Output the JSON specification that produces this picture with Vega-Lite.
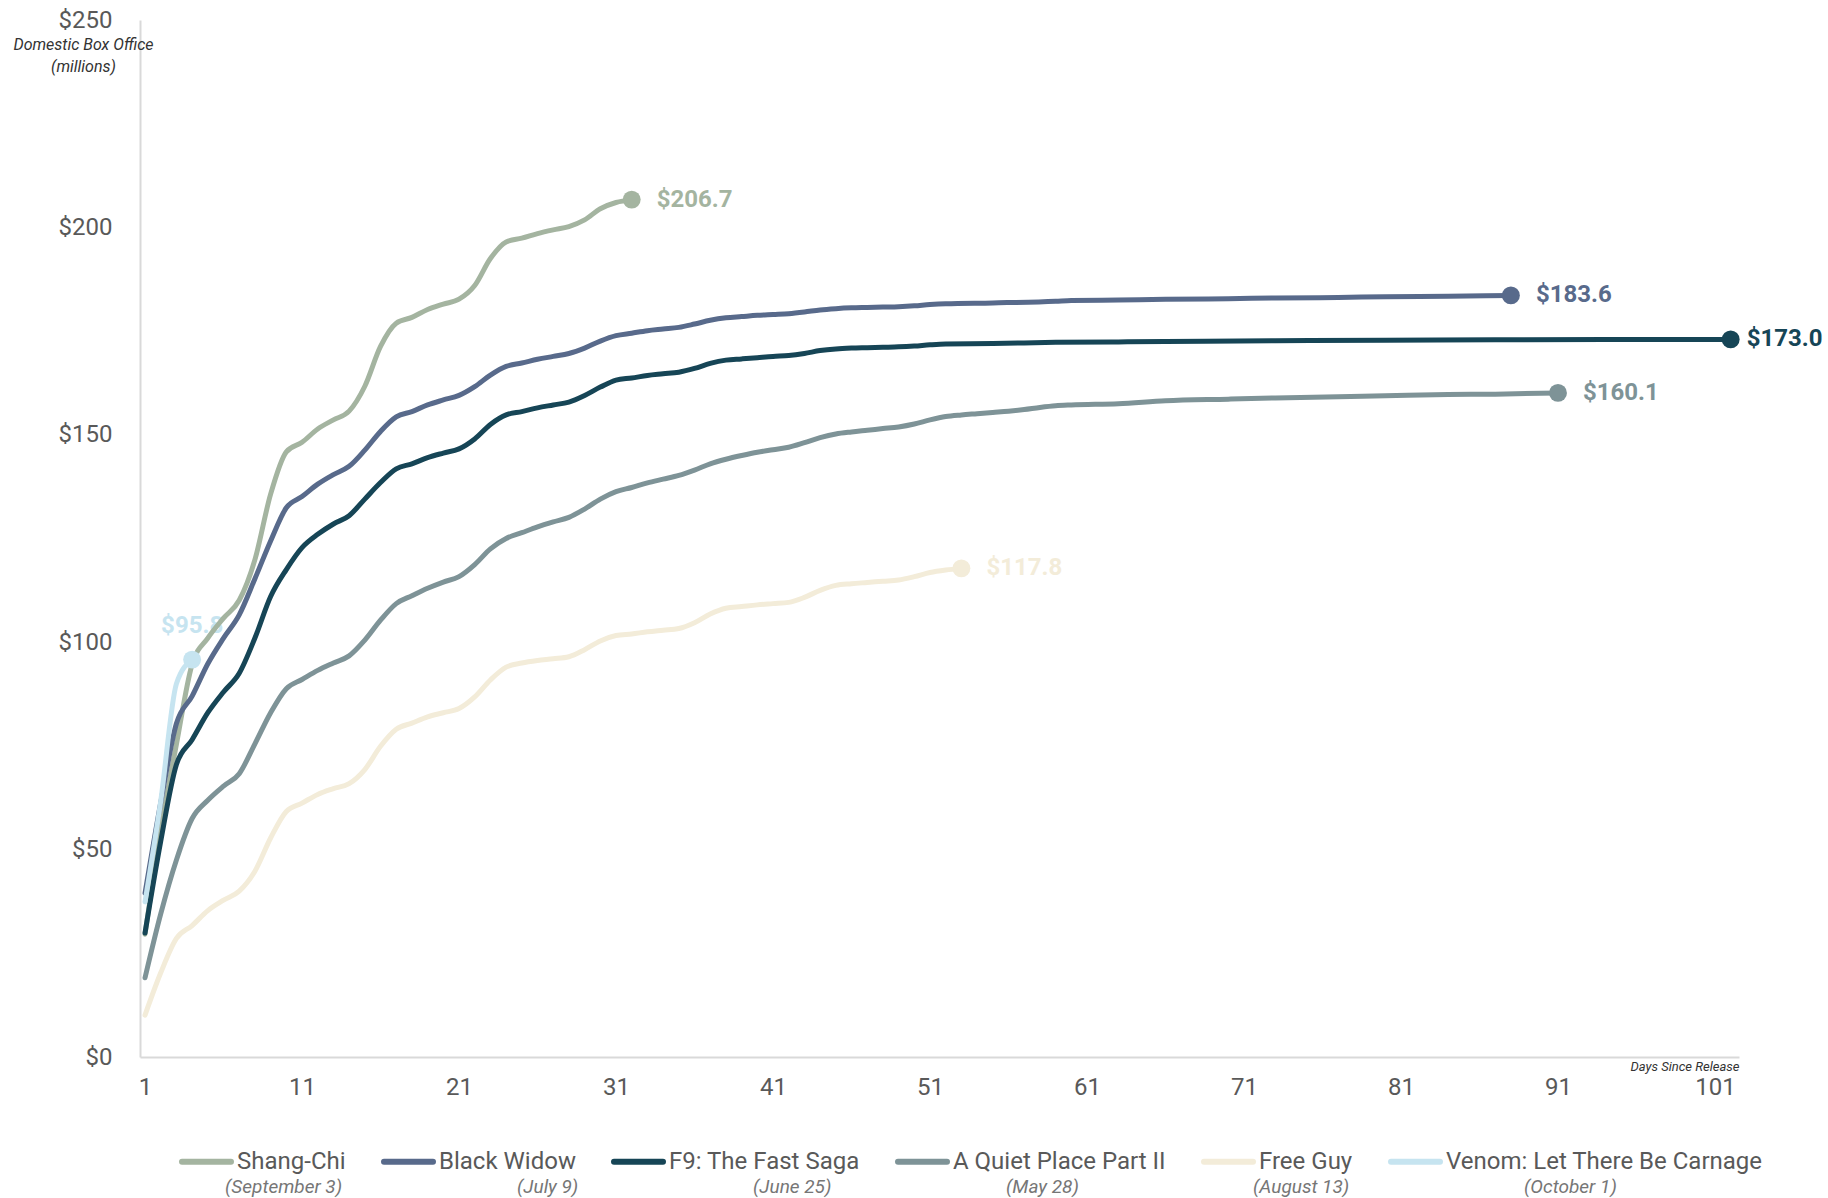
{
  "$schema": "https://vega.github.io/schema/vega-lite/v6.json",
  "width": 1599,
  "height": 1037,
  "autosize": {"type": "none"},
  "padding": {"left": 140, "top": 20, "right": 89, "bottom": 141},
  "background": "white",
  "config": {"view": {"stroke": null}, "font": "Roboto"},
  "datasets": {
    "releases": [
      {"movie": "Shang-Chi", "released": "September 3"},
      {"movie": "Black Widow", "released": "July 9"},
      {"movie": "F9: The Fast Saga", "released": "June 25"},
      {"movie": "A Quiet Place Part II", "released": "May 28"},
      {"movie": "Free Guy", "released": "August 13"},
      {"movie": "Venom: Let There Be Carnage", "released": "October 1"}
    ],
    "box": [
      {"movie": "Shang-Chi", "day": 1, "gross": 29.6},
      {"movie": "Shang-Chi", "day": 2, "gross": 54.5},
      {"movie": "Shang-Chi", "day": 3, "gross": 75.4},
      {"movie": "Shang-Chi", "day": 4, "gross": 94.7},
      {"movie": "Shang-Chi", "day": 5, "gross": 101.0},
      {"movie": "Shang-Chi", "day": 6, "gross": 105.8},
      {"movie": "Shang-Chi", "day": 7, "gross": 110.1},
      {"movie": "Shang-Chi", "day": 8, "gross": 119.9},
      {"movie": "Shang-Chi", "day": 9, "gross": 135.7},
      {"movie": "Shang-Chi", "day": 10, "gross": 145.9},
      {"movie": "Shang-Chi", "day": 11, "gross": 148.2},
      {"movie": "Shang-Chi", "day": 12, "gross": 151.4},
      {"movie": "Shang-Chi", "day": 13, "gross": 153.6},
      {"movie": "Shang-Chi", "day": 14, "gross": 155.7},
      {"movie": "Shang-Chi", "day": 15, "gross": 161.7},
      {"movie": "Shang-Chi", "day": 16, "gross": 171.3},
      {"movie": "Shang-Chi", "day": 17, "gross": 176.9},
      {"movie": "Shang-Chi", "day": 18, "gross": 178.3},
      {"movie": "Shang-Chi", "day": 19, "gross": 180.2},
      {"movie": "Shang-Chi", "day": 20, "gross": 181.5},
      {"movie": "Shang-Chi", "day": 21, "gross": 182.7},
      {"movie": "Shang-Chi", "day": 22, "gross": 186.0},
      {"movie": "Shang-Chi", "day": 23, "gross": 192.5},
      {"movie": "Shang-Chi", "day": 24, "gross": 196.5},
      {"movie": "Shang-Chi", "day": 25, "gross": 197.4},
      {"movie": "Shang-Chi", "day": 26, "gross": 198.5},
      {"movie": "Shang-Chi", "day": 27, "gross": 199.4},
      {"movie": "Shang-Chi", "day": 28, "gross": 200.2},
      {"movie": "Shang-Chi", "day": 29, "gross": 201.8},
      {"movie": "Shang-Chi", "day": 30, "gross": 204.5},
      {"movie": "Shang-Chi", "day": 31, "gross": 206.0},
      {"movie": "Shang-Chi", "day": 32, "gross": 206.7},
      {"movie": "Black Widow", "day": 1, "gross": 39.5},
      {"movie": "Black Widow", "day": 2, "gross": 61.3},
      {"movie": "Black Widow", "day": 3, "gross": 80.4},
      {"movie": "Black Widow", "day": 4, "gross": 87.0},
      {"movie": "Black Widow", "day": 5, "gross": 94.8},
      {"movie": "Black Widow", "day": 6, "gross": 101.0},
      {"movie": "Black Widow", "day": 7, "gross": 106.6},
      {"movie": "Black Widow", "day": 8, "gross": 115.3},
      {"movie": "Black Widow", "day": 9, "gross": 124.4},
      {"movie": "Black Widow", "day": 10, "gross": 132.4},
      {"movie": "Black Widow", "day": 11, "gross": 135.1},
      {"movie": "Black Widow", "day": 12, "gross": 138.1},
      {"movie": "Black Widow", "day": 13, "gross": 140.4},
      {"movie": "Black Widow", "day": 14, "gross": 142.4},
      {"movie": "Black Widow", "day": 15, "gross": 146.3},
      {"movie": "Black Widow", "day": 16, "gross": 150.8},
      {"movie": "Black Widow", "day": 17, "gross": 154.3},
      {"movie": "Black Widow", "day": 18, "gross": 155.6},
      {"movie": "Black Widow", "day": 19, "gross": 157.2},
      {"movie": "Black Widow", "day": 20, "gross": 158.4},
      {"movie": "Black Widow", "day": 21, "gross": 159.5},
      {"movie": "Black Widow", "day": 22, "gross": 161.6},
      {"movie": "Black Widow", "day": 23, "gross": 164.4},
      {"movie": "Black Widow", "day": 24, "gross": 166.5},
      {"movie": "Black Widow", "day": 25, "gross": 167.3},
      {"movie": "Black Widow", "day": 26, "gross": 168.2},
      {"movie": "Black Widow", "day": 27, "gross": 168.9},
      {"movie": "Black Widow", "day": 28, "gross": 169.6},
      {"movie": "Black Widow", "day": 29, "gross": 170.9},
      {"movie": "Black Widow", "day": 30, "gross": 172.6},
      {"movie": "Black Widow", "day": 31, "gross": 173.9},
      {"movie": "Black Widow", "day": 32, "gross": 174.5},
      {"movie": "Black Widow", "day": 33, "gross": 175.1},
      {"movie": "Black Widow", "day": 34, "gross": 175.5},
      {"movie": "Black Widow", "day": 35, "gross": 175.9},
      {"movie": "Black Widow", "day": 36, "gross": 176.7},
      {"movie": "Black Widow", "day": 37, "gross": 177.6},
      {"movie": "Black Widow", "day": 38, "gross": 178.2},
      {"movie": "Black Widow", "day": 39, "gross": 178.5},
      {"movie": "Black Widow", "day": 40, "gross": 178.8},
      {"movie": "Black Widow", "day": 41, "gross": 179.0},
      {"movie": "Black Widow", "day": 42, "gross": 179.2},
      {"movie": "Black Widow", "day": 43, "gross": 179.6},
      {"movie": "Black Widow", "day": 44, "gross": 180.1},
      {"movie": "Black Widow", "day": 45, "gross": 180.4},
      {"movie": "Black Widow", "day": 46, "gross": 180.6},
      {"movie": "Black Widow", "day": 47, "gross": 180.7},
      {"movie": "Black Widow", "day": 48, "gross": 180.8},
      {"movie": "Black Widow", "day": 49, "gross": 180.9},
      {"movie": "Black Widow", "day": 50, "gross": 181.1},
      {"movie": "Black Widow", "day": 51, "gross": 181.4},
      {"movie": "Black Widow", "day": 52, "gross": 181.6},
      {"movie": "Black Widow", "day": 55, "gross": 181.8},
      {"movie": "Black Widow", "day": 59, "gross": 182.2},
      {"movie": "Black Widow", "day": 60, "gross": 182.4},
      {"movie": "Black Widow", "day": 63, "gross": 182.5},
      {"movie": "Black Widow", "day": 66, "gross": 182.7},
      {"movie": "Black Widow", "day": 70, "gross": 182.8},
      {"movie": "Black Widow", "day": 73, "gross": 183.0},
      {"movie": "Black Widow", "day": 77, "gross": 183.1},
      {"movie": "Black Widow", "day": 80, "gross": 183.3},
      {"movie": "Black Widow", "day": 84, "gross": 183.4},
      {"movie": "Black Widow", "day": 88, "gross": 183.6},
      {"movie": "F9: The Fast Saga", "day": 1, "gross": 29.9},
      {"movie": "F9: The Fast Saga", "day": 2, "gross": 52.0},
      {"movie": "F9: The Fast Saga", "day": 3, "gross": 70.5},
      {"movie": "F9: The Fast Saga", "day": 4, "gross": 76.5},
      {"movie": "F9: The Fast Saga", "day": 5, "gross": 83.0},
      {"movie": "F9: The Fast Saga", "day": 6, "gross": 88.0},
      {"movie": "F9: The Fast Saga", "day": 7, "gross": 92.5},
      {"movie": "F9: The Fast Saga", "day": 8, "gross": 101.0},
      {"movie": "F9: The Fast Saga", "day": 9, "gross": 111.0},
      {"movie": "F9: The Fast Saga", "day": 10, "gross": 117.5},
      {"movie": "F9: The Fast Saga", "day": 11, "gross": 122.8},
      {"movie": "F9: The Fast Saga", "day": 12, "gross": 126.0},
      {"movie": "F9: The Fast Saga", "day": 13, "gross": 128.5},
      {"movie": "F9: The Fast Saga", "day": 14, "gross": 130.5},
      {"movie": "F9: The Fast Saga", "day": 15, "gross": 134.5},
      {"movie": "F9: The Fast Saga", "day": 16, "gross": 138.5},
      {"movie": "F9: The Fast Saga", "day": 17, "gross": 141.8},
      {"movie": "F9: The Fast Saga", "day": 18, "gross": 143.0},
      {"movie": "F9: The Fast Saga", "day": 19, "gross": 144.5},
      {"movie": "F9: The Fast Saga", "day": 20, "gross": 145.6},
      {"movie": "F9: The Fast Saga", "day": 21, "gross": 146.6},
      {"movie": "F9: The Fast Saga", "day": 22, "gross": 149.0},
      {"movie": "F9: The Fast Saga", "day": 23, "gross": 152.5},
      {"movie": "F9: The Fast Saga", "day": 24, "gross": 154.8},
      {"movie": "F9: The Fast Saga", "day": 25, "gross": 155.6},
      {"movie": "F9: The Fast Saga", "day": 26, "gross": 156.5},
      {"movie": "F9: The Fast Saga", "day": 27, "gross": 157.2},
      {"movie": "F9: The Fast Saga", "day": 28, "gross": 157.9},
      {"movie": "F9: The Fast Saga", "day": 29, "gross": 159.5},
      {"movie": "F9: The Fast Saga", "day": 30, "gross": 161.5},
      {"movie": "F9: The Fast Saga", "day": 31, "gross": 163.2},
      {"movie": "F9: The Fast Saga", "day": 32, "gross": 163.7},
      {"movie": "F9: The Fast Saga", "day": 33, "gross": 164.3},
      {"movie": "F9: The Fast Saga", "day": 34, "gross": 164.7},
      {"movie": "F9: The Fast Saga", "day": 35, "gross": 165.1},
      {"movie": "F9: The Fast Saga", "day": 36, "gross": 166.0},
      {"movie": "F9: The Fast Saga", "day": 37, "gross": 167.2},
      {"movie": "F9: The Fast Saga", "day": 38, "gross": 168.0},
      {"movie": "F9: The Fast Saga", "day": 39, "gross": 168.3},
      {"movie": "F9: The Fast Saga", "day": 40, "gross": 168.6},
      {"movie": "F9: The Fast Saga", "day": 41, "gross": 168.9},
      {"movie": "F9: The Fast Saga", "day": 42, "gross": 169.1},
      {"movie": "F9: The Fast Saga", "day": 43, "gross": 169.6},
      {"movie": "F9: The Fast Saga", "day": 44, "gross": 170.3},
      {"movie": "F9: The Fast Saga", "day": 45, "gross": 170.7},
      {"movie": "F9: The Fast Saga", "day": 46, "gross": 170.9},
      {"movie": "F9: The Fast Saga", "day": 47, "gross": 171.0},
      {"movie": "F9: The Fast Saga", "day": 48, "gross": 171.1},
      {"movie": "F9: The Fast Saga", "day": 49, "gross": 171.2},
      {"movie": "F9: The Fast Saga", "day": 50, "gross": 171.4},
      {"movie": "F9: The Fast Saga", "day": 51, "gross": 171.7},
      {"movie": "F9: The Fast Saga", "day": 52, "gross": 171.9},
      {"movie": "F9: The Fast Saga", "day": 55, "gross": 172.0},
      {"movie": "F9: The Fast Saga", "day": 59, "gross": 172.3},
      {"movie": "F9: The Fast Saga", "day": 63, "gross": 172.4},
      {"movie": "F9: The Fast Saga", "day": 66, "gross": 172.5},
      {"movie": "F9: The Fast Saga", "day": 73, "gross": 172.7},
      {"movie": "F9: The Fast Saga", "day": 80, "gross": 172.8},
      {"movie": "F9: The Fast Saga", "day": 87, "gross": 172.9},
      {"movie": "F9: The Fast Saga", "day": 94, "gross": 172.95},
      {"movie": "F9: The Fast Saga", "day": 102, "gross": 173.0},
      {"movie": "A Quiet Place Part II", "day": 1, "gross": 19.1},
      {"movie": "A Quiet Place Part II", "day": 2, "gross": 34.5},
      {"movie": "A Quiet Place Part II", "day": 3, "gross": 47.5},
      {"movie": "A Quiet Place Part II", "day": 4, "gross": 57.5},
      {"movie": "A Quiet Place Part II", "day": 5, "gross": 61.9},
      {"movie": "A Quiet Place Part II", "day": 6, "gross": 65.3},
      {"movie": "A Quiet Place Part II", "day": 7, "gross": 68.3},
      {"movie": "A Quiet Place Part II", "day": 8, "gross": 75.5},
      {"movie": "A Quiet Place Part II", "day": 9, "gross": 83.0},
      {"movie": "A Quiet Place Part II", "day": 10, "gross": 88.8},
      {"movie": "A Quiet Place Part II", "day": 11, "gross": 91.0},
      {"movie": "A Quiet Place Part II", "day": 12, "gross": 93.2},
      {"movie": "A Quiet Place Part II", "day": 13, "gross": 95.0},
      {"movie": "A Quiet Place Part II", "day": 14, "gross": 96.7},
      {"movie": "A Quiet Place Part II", "day": 15, "gross": 100.5},
      {"movie": "A Quiet Place Part II", "day": 16, "gross": 105.3},
      {"movie": "A Quiet Place Part II", "day": 17, "gross": 109.3},
      {"movie": "A Quiet Place Part II", "day": 18, "gross": 111.2},
      {"movie": "A Quiet Place Part II", "day": 19, "gross": 113.0},
      {"movie": "A Quiet Place Part II", "day": 20, "gross": 114.5},
      {"movie": "A Quiet Place Part II", "day": 21, "gross": 115.8},
      {"movie": "A Quiet Place Part II", "day": 22, "gross": 118.7},
      {"movie": "A Quiet Place Part II", "day": 23, "gross": 122.5},
      {"movie": "A Quiet Place Part II", "day": 24, "gross": 125.0},
      {"movie": "A Quiet Place Part II", "day": 25, "gross": 126.4},
      {"movie": "A Quiet Place Part II", "day": 26, "gross": 127.8},
      {"movie": "A Quiet Place Part II", "day": 27, "gross": 129.0},
      {"movie": "A Quiet Place Part II", "day": 28, "gross": 130.1},
      {"movie": "A Quiet Place Part II", "day": 29, "gross": 132.1},
      {"movie": "A Quiet Place Part II", "day": 30, "gross": 134.5},
      {"movie": "A Quiet Place Part II", "day": 31, "gross": 136.3},
      {"movie": "A Quiet Place Part II", "day": 32, "gross": 137.3},
      {"movie": "A Quiet Place Part II", "day": 33, "gross": 138.4},
      {"movie": "A Quiet Place Part II", "day": 34, "gross": 139.3},
      {"movie": "A Quiet Place Part II", "day": 35, "gross": 140.2},
      {"movie": "A Quiet Place Part II", "day": 36, "gross": 141.5},
      {"movie": "A Quiet Place Part II", "day": 37, "gross": 143.0},
      {"movie": "A Quiet Place Part II", "day": 38, "gross": 144.1},
      {"movie": "A Quiet Place Part II", "day": 39, "gross": 145.0},
      {"movie": "A Quiet Place Part II", "day": 40, "gross": 145.8},
      {"movie": "A Quiet Place Part II", "day": 41, "gross": 146.4},
      {"movie": "A Quiet Place Part II", "day": 42, "gross": 147.0},
      {"movie": "A Quiet Place Part II", "day": 43, "gross": 148.1},
      {"movie": "A Quiet Place Part II", "day": 44, "gross": 149.3},
      {"movie": "A Quiet Place Part II", "day": 45, "gross": 150.2},
      {"movie": "A Quiet Place Part II", "day": 46, "gross": 150.7},
      {"movie": "A Quiet Place Part II", "day": 47, "gross": 151.1},
      {"movie": "A Quiet Place Part II", "day": 48, "gross": 151.5},
      {"movie": "A Quiet Place Part II", "day": 49, "gross": 151.9},
      {"movie": "A Quiet Place Part II", "day": 50, "gross": 152.6},
      {"movie": "A Quiet Place Part II", "day": 51, "gross": 153.6},
      {"movie": "A Quiet Place Part II", "day": 52, "gross": 154.4},
      {"movie": "A Quiet Place Part II", "day": 53, "gross": 154.8},
      {"movie": "A Quiet Place Part II", "day": 54, "gross": 155.1},
      {"movie": "A Quiet Place Part II", "day": 55, "gross": 155.4},
      {"movie": "A Quiet Place Part II", "day": 56, "gross": 155.7},
      {"movie": "A Quiet Place Part II", "day": 57, "gross": 156.1},
      {"movie": "A Quiet Place Part II", "day": 58, "gross": 156.6},
      {"movie": "A Quiet Place Part II", "day": 59, "gross": 157.0},
      {"movie": "A Quiet Place Part II", "day": 60, "gross": 157.2},
      {"movie": "A Quiet Place Part II", "day": 63, "gross": 157.5},
      {"movie": "A Quiet Place Part II", "day": 66, "gross": 158.2},
      {"movie": "A Quiet Place Part II", "day": 70, "gross": 158.6},
      {"movie": "A Quiet Place Part II", "day": 73, "gross": 158.9},
      {"movie": "A Quiet Place Part II", "day": 77, "gross": 159.2},
      {"movie": "A Quiet Place Part II", "day": 80, "gross": 159.4},
      {"movie": "A Quiet Place Part II", "day": 84, "gross": 159.7},
      {"movie": "A Quiet Place Part II", "day": 87, "gross": 159.8},
      {"movie": "A Quiet Place Part II", "day": 91, "gross": 160.1},
      {"movie": "Free Guy", "day": 1, "gross": 10.1},
      {"movie": "Free Guy", "day": 2, "gross": 20.3},
      {"movie": "Free Guy", "day": 3, "gross": 28.6},
      {"movie": "Free Guy", "day": 4, "gross": 31.7},
      {"movie": "Free Guy", "day": 5, "gross": 35.3},
      {"movie": "Free Guy", "day": 6, "gross": 37.8},
      {"movie": "Free Guy", "day": 7, "gross": 40.0},
      {"movie": "Free Guy", "day": 8, "gross": 44.8},
      {"movie": "Free Guy", "day": 9, "gross": 52.8},
      {"movie": "Free Guy", "day": 10, "gross": 59.2},
      {"movie": "Free Guy", "day": 11, "gross": 61.2},
      {"movie": "Free Guy", "day": 12, "gross": 63.3},
      {"movie": "Free Guy", "day": 13, "gross": 64.7},
      {"movie": "Free Guy", "day": 14, "gross": 65.9},
      {"movie": "Free Guy", "day": 15, "gross": 69.3},
      {"movie": "Free Guy", "day": 16, "gross": 74.9},
      {"movie": "Free Guy", "day": 17, "gross": 79.0},
      {"movie": "Free Guy", "day": 18, "gross": 80.5},
      {"movie": "Free Guy", "day": 19, "gross": 82.0},
      {"movie": "Free Guy", "day": 20, "gross": 83.0},
      {"movie": "Free Guy", "day": 21, "gross": 84.0},
      {"movie": "Free Guy", "day": 22, "gross": 86.8},
      {"movie": "Free Guy", "day": 23, "gross": 90.9},
      {"movie": "Free Guy", "day": 24, "gross": 94.0},
      {"movie": "Free Guy", "day": 25, "gross": 95.0},
      {"movie": "Free Guy", "day": 26, "gross": 95.6},
      {"movie": "Free Guy", "day": 27, "gross": 96.0},
      {"movie": "Free Guy", "day": 28, "gross": 96.5},
      {"movie": "Free Guy", "day": 29, "gross": 98.2},
      {"movie": "Free Guy", "day": 30, "gross": 100.3},
      {"movie": "Free Guy", "day": 31, "gross": 101.6},
      {"movie": "Free Guy", "day": 32, "gross": 102.0},
      {"movie": "Free Guy", "day": 33, "gross": 102.5},
      {"movie": "Free Guy", "day": 34, "gross": 102.9},
      {"movie": "Free Guy", "day": 35, "gross": 103.3},
      {"movie": "Free Guy", "day": 36, "gross": 104.7},
      {"movie": "Free Guy", "day": 37, "gross": 106.8},
      {"movie": "Free Guy", "day": 38, "gross": 108.2},
      {"movie": "Free Guy", "day": 39, "gross": 108.6},
      {"movie": "Free Guy", "day": 40, "gross": 109.0},
      {"movie": "Free Guy", "day": 41, "gross": 109.3},
      {"movie": "Free Guy", "day": 42, "gross": 109.6},
      {"movie": "Free Guy", "day": 43, "gross": 110.8},
      {"movie": "Free Guy", "day": 44, "gross": 112.5},
      {"movie": "Free Guy", "day": 45, "gross": 113.7},
      {"movie": "Free Guy", "day": 46, "gross": 114.1},
      {"movie": "Free Guy", "day": 47, "gross": 114.4},
      {"movie": "Free Guy", "day": 48, "gross": 114.7},
      {"movie": "Free Guy", "day": 49, "gross": 115.0},
      {"movie": "Free Guy", "day": 50, "gross": 115.8},
      {"movie": "Free Guy", "day": 51, "gross": 116.8},
      {"movie": "Free Guy", "day": 52, "gross": 117.4},
      {"movie": "Free Guy", "day": 53, "gross": 117.8},
      {"movie": "Venom: Let There Be Carnage", "day": 1, "gross": 37.4},
      {"movie": "Venom: Let There Be Carnage", "day": 2, "gross": 61.7},
      {"movie": "Venom: Let There Be Carnage", "day": 3, "gross": 90.0},
      {"movie": "Venom: Let There Be Carnage", "day": 4, "gross": 95.8}
    ]
  },
  "layer": [
    {
      "data": {"name": "box"},
      "encoding": {
        "x": {
          "field": "day",
          "type": "quantitative",
          "scale": {"domain": [0.68, 102.53], "nice": false, "zero": false},
          "axis": {
            "values": [1, 11, 21, 31, 41, 51, 61, 71, 81, 91, 101],
            "format": "d",
            "grid": false,
            "ticks": false,
            "labelFont": "Roboto",
            "labelFontSize": 24,
            "labelColor": "#595959",
            "labelPadding": 18,
            "labelFlush": false,
            "labelOverlap": false,
            "domainColor": "#d9d9d9",
            "domainWidth": 2,
            "title": "Days Since Release",
            "titleFont": "Roboto",
            "titleFontSize": 13,
            "titleFontStyle": "italic",
            "titleFontWeight": "normal",
            "titleColor": "#333333",
            "titleX": 1599,
            "titleY": 9,
            "titleAlign": "right",
            "titleBaseline": "middle"
          }
        },
        "y": {
          "field": "gross",
          "type": "quantitative",
          "scale": {"domain": [0, 250], "nice": false},
          "axis": {
            "values": [0, 50, 100, 150, 200, 250],
            "format": "$d",
            "grid": false,
            "ticks": false,
            "labelFont": "Roboto",
            "labelFontSize": 24,
            "labelColor": "#595959",
            "labelPadding": 28,
            "labelFlush": false,
            "labelOverlap": false,
            "domainColor": "#d9d9d9",
            "domainWidth": 2,
            "title": ["Domestic Box Office", "(millions)"],
            "titleFont": "Roboto",
            "titleAngle": 0,
            "titleX": -57,
            "titleY": 29,
            "titleAlign": "center",
            "titleBaseline": "alphabetic",
            "titleFontStyle": "italic",
            "titleFontWeight": "normal",
            "titleFontSize": 16,
            "titleLineHeight": 22,
            "titleColor": "#333333"
          }
        },
        "color": {
          "field": "movie",
          "type": "nominal",
          "scale": {
            "domain": ["Shang-Chi", "Black Widow", "F9: The Fast Saga", "A Quiet Place Part II", "Free Guy", "Venom: Let There Be Carnage"],
            "range": ["#a4b4a0", "#586a8b", "#164556", "#7e9397", "#f3ecd9", "#c6e4f0"]
          },
          "legend": {
            "orient": "none",
            "legendX": 39,
            "legendY": 1114,
            "direction": "horizontal",
            "columns": 6,
            "title": null,
            "padding": 0,
            "symbolType": "stroke",
            "symbolSize": 2401,
            "symbolStrokeWidth": 6,
            "symbolOpacity": 1,
            "labelOffset": 3,
            "columnPadding": 26,
            "labelFont": "Roboto",
            "labelFontSize": 24,
            "labelColor": "#595959",
            "labelLimit": 600,
            "labelBaseline": "middle",
            "encode": {"symbols": {"update": {"strokeCap": {"value": "round"}}}}
          }
        }
      },
      "layer": [
        {
          "transform": [
            {"joinaggregate": [{"op": "max", "field": "day", "as": "last"}], "groupby": ["movie"]},
            {"filter": "datum.day == datum.last && datum.movie != 'Venom: Let There Be Carnage' && datum.movie != 'F9: The Fast Saga'"}
          ],
          "mark": {"type": "text", "align": "left", "baseline": "middle", "dx": 25, "fontSize": 24, "fontWeight": "bold", "font": "Roboto"},
          "encoding": {"text": {"field": "gross", "type": "quantitative", "format": "$.1f"}}
        },
        {
          "transform": [
            {"joinaggregate": [{"op": "max", "field": "day", "as": "last"}], "groupby": ["movie"]},
            {"filter": "datum.day == datum.last && datum.movie == 'F9: The Fast Saga'"}
          ],
          "mark": {"type": "text", "align": "left", "baseline": "middle", "dx": 16, "fontSize": 24, "fontWeight": "bold", "font": "Roboto"},
          "encoding": {"text": {"field": "gross", "type": "quantitative", "format": "$.1f"}}
        },
        {
          "transform": [
            {"joinaggregate": [{"op": "max", "field": "day", "as": "last"}], "groupby": ["movie"]},
            {"filter": "datum.day == datum.last && datum.movie == 'Venom: Let There Be Carnage'"}
          ],
          "mark": {"type": "text", "align": "center", "baseline": "middle", "dy": -34, "fontSize": 24, "fontWeight": "bold", "font": "Roboto"},
          "encoding": {"text": {"field": "gross", "type": "quantitative", "format": "$.1f"}}
        },
        {
          "mark": {"type": "line", "interpolate": "monotone", "strokeWidth": 5, "strokeCap": "round", "strokeJoin": "round"}
        },
        {
          "transform": [
            {"joinaggregate": [{"op": "max", "field": "day", "as": "last"}], "groupby": ["movie"]},
            {"filter": "datum.day == datum.last"}
          ],
          "mark": {"type": "circle", "size": 320, "opacity": 1}
        }
      ]
    },
    {
      "data": {"name": "releases"},
      "mark": {"type": "point", "opacity": 0},
      "encoding": {
        "shape": {
          "field": "released",
          "type": "nominal",
          "scale": {"domain": ["September 3", "July 9", "June 25", "May 28", "August 13", "October 1"]},
          "legend": {
            "orient": "none",
            "legendX": 66,
            "legendY": 1157,
            "direction": "horizontal",
            "columns": 6,
            "title": null,
            "padding": 0,
            "symbolSize": 1,
            "symbolOpacity": 0,
            "symbolStrokeWidth": 0,
            "labelOffset": 0,
            "columnPadding": 155,
            "labelFont": "Roboto",
            "labelFontSize": 19,
            "labelFontStyle": "italic",
            "labelColor": "#767676",
            "labelLimit": 600,
            "labelBaseline": "middle",
            "labelExpr": "'(' + datum.label + ')'"
          }
        }
      }
    }
  ]
}
